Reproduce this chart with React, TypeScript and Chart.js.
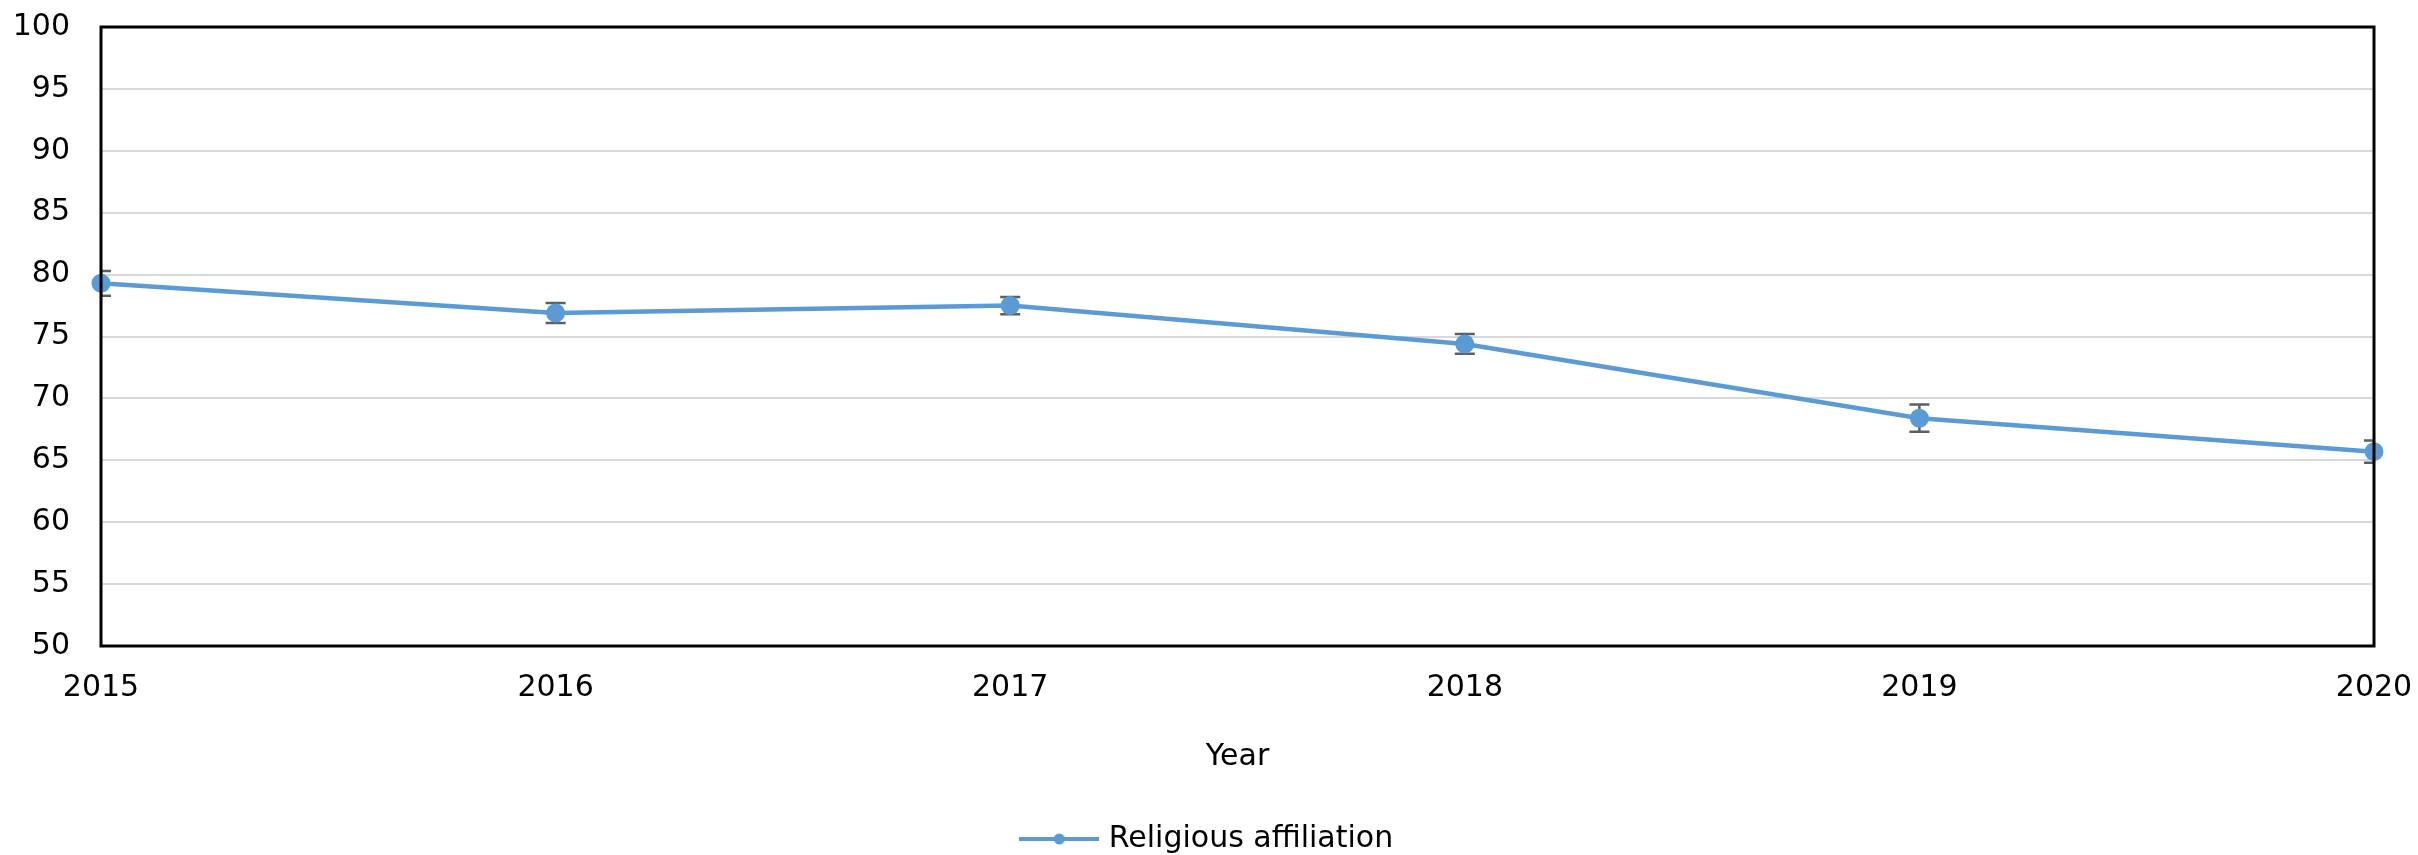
import React, { useEffect, useRef } from "react";
import { Chart, registerables } from "chart.js";

Chart.register(...registerables);

const years: string[] = ["2015", "2016", "2017", "2018", "2019", "2020"];
const affiliation: number[] = [79.3, 76.9, 77.5, 74.4, 68.4, 65.7];
const affiliationError: number[] = [1.0, 0.8, 0.7, 0.8, 1.1, 0.9];
const yTicks: number[] = [50, 55, 60, 65, 70, 75, 80, 85, 90, 95, 100];

const SERIES_COLOR = "#5b9bd5";
const FONT = "'DejaVu Sans', Verdana, sans-serif";

function makeLegendSymbol(): HTMLCanvasElement {
  const c = document.createElement("canvas");
  c.width = 80;
  c.height = 14;
  const g = c.getContext("2d")!;
  g.strokeStyle = SERIES_COLOR;
  g.lineWidth = 4;
  g.beginPath();
  g.moveTo(0, 7);
  g.lineTo(80, 7);
  g.stroke();
  g.fillStyle = SERIES_COLOR;
  g.beginPath();
  g.arc(40, 7, 5.5, 0, Math.PI * 2);
  g.fill();
  return c;
}

const errorBarPlugin = {
  id: "errorBars",
  beforeDatasetsDraw(chart: any) {
    const { ctx, chartArea, scales } = chart;
    const xs = scales.x;
    const ys = scales.y;
    ctx.save();
    ctx.beginPath();
    ctx.rect(chartArea.left, chartArea.top, chartArea.right - chartArea.left, chartArea.bottom - chartArea.top);
    ctx.clip();
    ctx.strokeStyle = "#5f5f5f";
    ctx.lineWidth = 2.5;
    affiliation.forEach((v, i) => {
      const x = xs.getPixelForValue(i);
      const yTop = ys.getPixelForValue(v + affiliationError[i]);
      const yBot = ys.getPixelForValue(v - affiliationError[i]);
      ctx.beginPath();
      ctx.moveTo(x, yTop);
      ctx.lineTo(x, yBot);
      ctx.moveTo(x - 10, yTop);
      ctx.lineTo(x + 10, yTop);
      ctx.moveTo(x - 10, yBot);
      ctx.lineTo(x + 10, yBot);
      ctx.stroke();
    });
    ctx.restore();
  },
};

const frameBorderPlugin = {
  id: "frameBorder",
  afterDraw(chart: any) {
    const { ctx, chartArea } = chart;
    ctx.save();
    ctx.strokeStyle = "#000000";
    ctx.lineWidth = 3;
    ctx.strokeRect(chartArea.left, chartArea.top, chartArea.right - chartArea.left, chartArea.bottom - chartArea.top);
    ctx.restore();
  },
};

export default function App() {
  const canvasRef = useRef<HTMLCanvasElement | null>(null);

  useEffect(() => {
    if (!canvasRef.current) return;
    const legendSymbol = makeLegendSymbol();
    const chart = new Chart(canvasRef.current, {
      type: "line",
      data: {
        labels: years,
        datasets: [
          {
            label: "Religious affiliation",
            data: affiliation,
            borderColor: SERIES_COLOR,
            backgroundColor: SERIES_COLOR,
            borderWidth: 4.5,
            pointRadius: 9.5,
            pointHoverRadius: 9.5,
            pointBackgroundColor: SERIES_COLOR,
            pointBorderWidth: 0,
            pointStyle: "circle",
            tension: 0,
            clip: false,
          } as any,
        ],
      },
      options: {
        animation: false,
        responsive: false,
        maintainAspectRatio: false,
        layout: { padding: { left: 0, right: 0, top: 27, bottom: 0 } },
        plugins: {
          tooltip: { enabled: false },
          legend: {
            position: "bottom",
            labels: {
              usePointStyle: true,
              pointStyle: legendSymbol as any,
              pointStyleWidth: 69,
              color: "#000000",
              font: { family: FONT, size: 30 },
              padding: 9,
            },
          },
        },
        scales: {
          x: {
            type: "category",
            offset: false,
            afterFit(scale: any) {
              scale.paddingRight = 44;
            },
            grid: {
              display: true,
              drawOnChartArea: false,
              drawTicks: true,
              tickLength: 24,
              tickColor: "rgba(0,0,0,0)",
            },
            border: { display: false },
            ticks: {
              color: "#000000",
              font: { family: FONT, size: 30 },
              padding: 0,
              maxRotation: 0,
              autoSkip: false,
            },
            title: {
              display: true,
              text: "Year",
              color: "#000000",
              font: { family: FONT, size: 30 },
              padding: { top: 33, bottom: 40 },
            },
          },
          y: {
            min: 50,
            max: 100,
            afterFit(scale: any) {
              scale.width = 101;
            },
            afterBuildTicks(scale: any) {
              scale.ticks = yTicks.map((v) => ({ value: v }));
            },
            grid: {
              color: "#d9d9d9",
              lineWidth: 2,
              drawTicks: true,
              tickLength: 31,
              tickColor: "rgba(0,0,0,0)",
            },
            border: { display: false },
            ticks: {
              color: "#000000",
              font: { family: FONT, size: 30 },
              padding: 0,
            },
          },
        },
      },
      plugins: [errorBarPlugin, frameBorderPlugin],
    });
    return () => chart.destroy();
  }, []);

  return (
    <div style={{ position: "absolute", left: 0, top: 0, width: 2418, height: 855, overflow: "hidden", background: "#ffffff" }}>
      <canvas ref={canvasRef} width={2418} height={864} style={{ display: "block", width: 2418, height: 864 }} />
    </div>
  );
}
